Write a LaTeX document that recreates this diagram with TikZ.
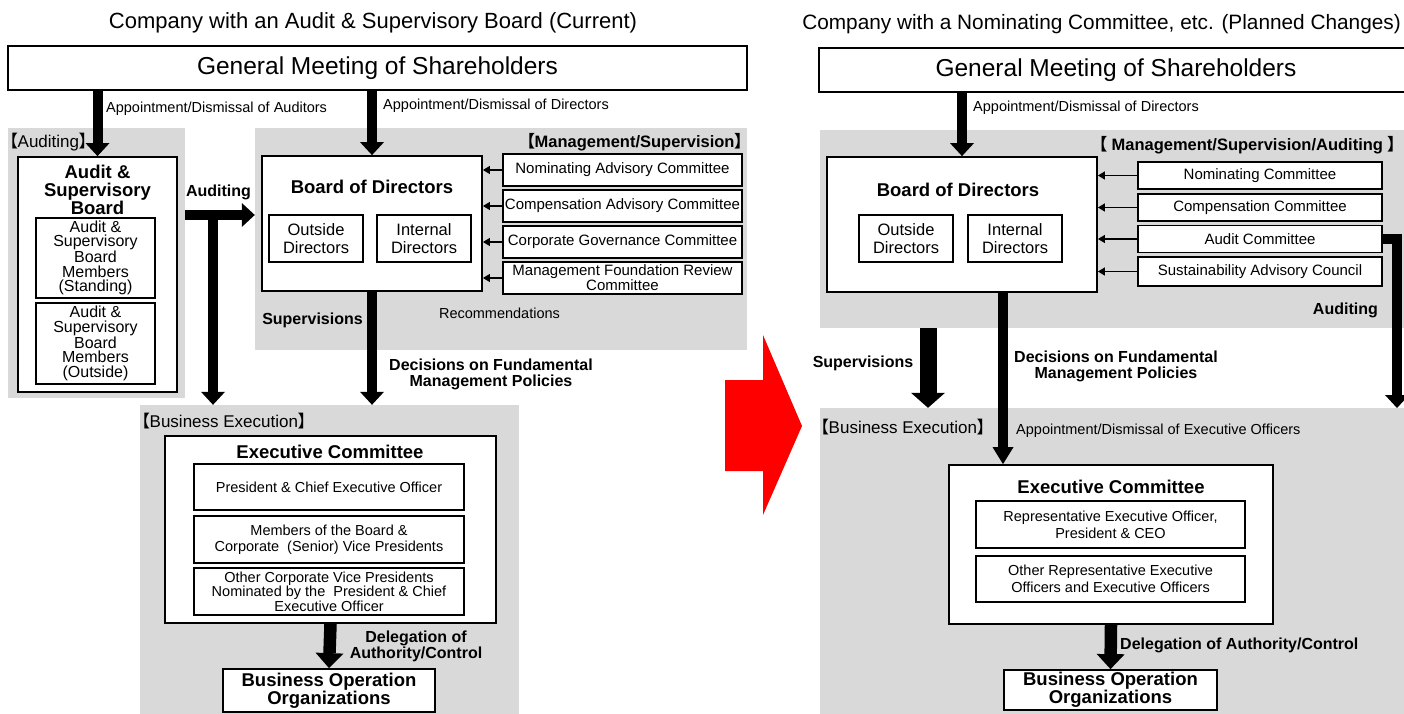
\documentclass[tikz,border=0pt]{standalone}
\usepackage{fontspec}
\setmainfont{Liberation Sans}
\newfontfamily\cjkfont[RawFeature=+palt]{Noto Sans CJK JP}
\usetikzlibrary{arrows.meta, positioning}
\definecolor{panelgray}{HTML}{D9D9D9}
\definecolor{shiftred}{HTML}{FF0000}
\newcommand{\lbrk}{{\cjkfont 【}}
\newcommand{\rbrk}{{\cjkfont 】}}

\begin{document}
\begin{tikzpicture}[
        x=1pt, y=-1pt,
        panel/.style={fill=panelgray, inner sep=0pt},
        bigbox/.style={draw, line width=1.8pt, fill=white, inner sep=0pt, align=center},
        smallbox/.style={draw, line width=1.2pt, fill=white, inner sep=0pt, align=center, font=\fontsize{15}{15}\selectfont},
        heading/.style={inner sep=0pt, font=\fontsize{22}{24}\selectfont},
        gmsfont/.style={font=\fontsize{24.5}{26}\selectfont},
        regiontag/.style={inner sep=0pt, font=\fontsize{17}{17}\selectfont},
        boldtag/.style={inner sep=0pt, font=\fontsize{16.5}{16}\selectfont\bfseries},
        sidenote/.style={inner sep=0pt, font=\fontsize{14.5}{15}\selectfont},
        flowlabel/.style={inner sep=0pt, align=center, font=\fontsize{16}{16}\selectfont\bfseries},
        boxtitle/.style={inner sep=0pt, align=center, font=\fontsize{18.5}{18}\selectfont\bfseries},
        bigarrow/.style={line width=10pt, -{Triangle[width=24pt,length=13pt,line width=0pt]}},
        slimarrow/.style={line width=10pt, -{Triangle[width=21pt,length=17pt,line width=0pt]}},
        fatarrow/.style={line width=17pt, -{Triangle[width=34pt,length=15pt,line width=0pt]}},
        delegarrow/.style={line width=12.5pt, -{Triangle[width=28pt,length=15pt,line width=0pt]}},
        recarrow/.style={line width=1.3pt, -{Triangle[width=8pt,length=7pt]}}
    ]
    \useasboundingbox (0,0) rectangle (1404,713);
    \clip (0,0) rectangle (1404,713);

    % current structure
    \node[heading] (title1) at (373,23) {Company with an Audit \& Supervisory Board (Current)};
    \node[bigbox, gmsfont, minimum width=739pt, minimum height=44pt] (gms1) at (377.5,68) {General Meeting of Shareholders};
    \node[panel, minimum width=177pt, minimum height=270pt] (audpanel) at (96.5,263) {};
    \node[panel, minimum width=492pt, minimum height=222pt] (mgmtpanel1) at (501,239) {};
    \node[panel, minimum width=379pt, minimum height=312pt] (execpanel1) at (329.5,561) {};
    \node[regiontag, anchor=west] (audtag) at (9,142) {\lbrk Auditing\rbrk};
    \node[boldtag, anchor=east] (mgmttag1) at (743,142) {\lbrk Management/Supervision\rbrk};
    \node[regiontag, anchor=west] (bustag1) at (141,421) {\lbrk Business Execution\rbrk};
    \node[sidenote, anchor=west] (appaud) at (106,109) {Appointment/Dismissal of Auditors};
    \node[sidenote, anchor=west] (appdir1) at (383,106) {Appointment/Dismissal of Directors};

    \node[bigbox, minimum width=159pt, minimum height=235pt] (asb) at (97.5,274.5) {};
    \node[boxtitle] (asbtitle) at (97.5,190) {Audit \&\\Supervisory\\Board};
    \node[smallbox, minimum width=119pt, minimum height=80pt, font=\fontsize{16}{14.5}\selectfont] (asbstand) at (95.5,258) {Audit \&\\Supervisory\\Board\\Members\\(Standing)};
    \node[smallbox, minimum width=119pt, minimum height=81pt, font=\fontsize{16}{14.5}\selectfont] (asbout) at (95.5,343.5) {Audit \&\\Supervisory\\Board\\Members\\(Outside)};

    \node[bigbox, minimum width=220pt, minimum height=135pt] (bod1) at (372,223.5) {};
    \node[boxtitle] (bod1title) at (372,187) {Board of Directors};
    \node[smallbox, minimum width=94pt, minimum height=47pt, font=\fontsize{16.5}{18}\selectfont] (outdir1) at (316,238.5) {Outside\\Directors};
    \node[smallbox, minimum width=94pt, minimum height=47pt, font=\fontsize{16.5}{18}\selectfont] (intdir1) at (424,238.5) {Internal\\Directors};

    \node[smallbox, minimum width=239pt, minimum height=32pt] (nomadv) at (622.5,170) {Nominating Advisory Committee};
    \node[smallbox, minimum width=239pt, minimum height=32pt] (compadv) at (622.5,206) {Compensation Advisory Committee};
    \node[smallbox, minimum width=239pt, minimum height=32pt] (cgcom) at (622.5,242) {Corporate Governance Committee};
    \node[smallbox, minimum width=239pt, minimum height=32pt, font=\fontsize{15}{12}\selectfont] (mfrcom) at (622.5,278) {Management Foundation Review\\Committee};
    \draw[recarrow] (nomadv.west) -- (nomadv.west -| bod1.east);
    \draw[recarrow] (compadv.west) -- (compadv.west -| bod1.east);
    \draw[recarrow] (cgcom.west) -- (cgcom.west -| bod1.east);
    \draw[recarrow] (mfrcom.west) -- (mfrcom.west -| bod1.east);
    \node[sidenote] (recnote) at (499.5,313) {Recommendations};

    \node[flowlabel] (audlabel1) at (218.5,192) {Auditing};
    \node[flowlabel] (suplabel1) at (312.5,320) {Supervisions};
    \node[flowlabel] (declabel1) at (491,374) {Decisions on Fundamental\\Management Policies};

    \node[bigbox, minimum width=331pt, minimum height=187pt] (exec1) at (330.5,529.5) {};
    \node[boxtitle] (exec1title) at (330,452) {Executive Committee};
    \node[smallbox, minimum width=270pt, minimum height=46pt, font=\fontsize{14.5}{16.5}\selectfont] (pceo) at (329,487) {President \& Chief Executive Officer};
    \node[smallbox, minimum width=270pt, minimum height=47pt, font=\fontsize{14.5}{16.5}\selectfont] (mbvp) at (329,539.5) {Members of the Board \&\\Corporate\ \ (Senior) Vice Presidents};
    \node[smallbox, minimum width=270pt, minimum height=47pt, font=\fontsize{14.5}{12.5}\selectfont] (ocvp) at (329,591.5) {Other Corporate Vice Presidents\\Nominated by the\ \ President \& Chief\\Executive Officer};
    \node[bigbox, minimum width=212pt, minimum height=43pt, font=\fontsize{18.5}{17}\selectfont\bfseries] (bizops1) at (329,690.5) {Business Operation\\Organizations};
    \node[flowlabel] (dellabel1) at (416,646) {Delegation of\\Authority/Control};

    \coordinate (audjoin) at (213,215);
    \draw[bigarrow] (gms1.south -| asb.north) -- (asb.north);
    \draw[bigarrow] (gms1.south -| bod1.north) -- (bod1.north);
    \draw[bigarrow] (audpanel.east |- audjoin) -- (mgmtpanel1.west |- audjoin);
    \draw[bigarrow] (audjoin) -- (audjoin |- execpanel1.north);
    \draw[bigarrow] (bod1.south) -- (bod1.south |- execpanel1.north);
    \draw[delegarrow] (exec1.south) -- (bizops1.north);

    \fill[shiftred] (725,380) -- (763,380) -- (763,335) -- (802,426) -- (763,515) -- (763,471) -- (725,471) -- cycle;

    % planned structure
    \node[heading, anchor=east, font=\fontsize{20.8}{24}\selectfont] (title2) at (1401,24) {Company with a Nominating Committee, etc. (Planned Changes)};
    \node[bigbox, gmsfont, minimum width=594pt, minimum height=44pt] (gms2) at (1116,70) {General Meeting of Shareholders};
    \node[panel, minimum width=590pt, minimum height=198pt] (mgmtpanel2) at (1115,229) {};
    \node[panel, minimum width=590pt, minimum height=310pt] (execpanel2) at (1115,563) {};
    \node[boldtag, anchor=east] (mgmttag2) at (1396,145) {\lbrk\ Management/Supervision/Auditing\ \rbrk};
    \node[regiontag, anchor=west] (bustag2) at (820,427) {\lbrk Business Execution\rbrk};
    \node[sidenote, anchor=west] (appdir2) at (973,108) {Appointment/Dismissal of Directors};
    \node[sidenote, anchor=west] (appexec) at (1016,431) {Appointment/Dismissal of Executive Officers};

    \node[bigbox, minimum width=270pt, minimum height=135pt] (bod2) at (962,224.5) {};
    \node[boxtitle] (bod2title) at (958,190) {Board of Directors};
    \node[smallbox, minimum width=94pt, minimum height=47pt, font=\fontsize{16.5}{18}\selectfont] (outdir2) at (906,238.5) {Outside\\Directors};
    \node[smallbox, minimum width=94pt, minimum height=47pt, font=\fontsize{16.5}{18}\selectfont] (intdir2) at (1015,238.5) {Internal\\Directors};

    \node[smallbox, minimum width=244pt, minimum height=27pt] (nomcom) at (1260,175.5) {Nominating Committee};
    \node[smallbox, minimum width=244pt, minimum height=27pt] (compcom) at (1260,207.5) {Compensation Committee};
    \node[smallbox, minimum width=244pt, minimum height=27pt] (auditcom) at (1260,239) {Audit Committee};
    \node[smallbox, minimum width=244pt, minimum height=29pt] (sustcouncil) at (1260,271.5) {Sustainability Advisory Council};
    \draw[recarrow] (nomcom.west) -- (nomcom.west -| bod2.east);
    \draw[recarrow] (compcom.west) -- (compcom.west -| bod2.east);
    \draw[recarrow] (auditcom.west) -- (auditcom.west -| bod2.east);
    \draw[recarrow] (sustcouncil.west) -- (sustcouncil.west -| bod2.east);

    \node[flowlabel, anchor=east] (audlabel2) at (1378,310) {Auditing};
    \node[flowlabel] (suplabel2) at (863,363) {Supervisions};
    \node[flowlabel] (declabel2) at (1116,366) {Decisions on Fundamental\\Management Policies};

    \node[bigbox, minimum width=324pt, minimum height=159pt] (exec2) at (1111,544.5) {};
    \node[boxtitle] (exec2title) at (1111,487) {Executive Committee};
    \node[smallbox, minimum width=269pt, minimum height=47pt, font=\fontsize{14.5}{17}\selectfont] (repceo) at (1110.5,524.5) {Representative Executive Officer,\\President \& CEO};
    \node[smallbox, minimum width=269pt, minimum height=46pt, font=\fontsize{14.5}{17}\selectfont] (otherexec) at (1110.5,579) {Other Representative Executive\\Officers and Executive Officers};
    \node[bigbox, minimum width=213pt, minimum height=40pt, font=\fontsize{18.5}{17}\selectfont\bfseries] (bizops2) at (1110.5,690) {Business Operation\\Organizations};
    \node[flowlabel, anchor=west] (dellabel2) at (1120,645) {Delegation of Authority/Control};

    \coordinate (supx) at (928,0);
    \coordinate (decx) at (1003,0);
    \coordinate (audtip) at (1397,408);
    \draw[bigarrow] (gms2.south -| bod2.north) -- (bod2.north);
    \draw[fatarrow] (mgmtpanel2.south -| supx) -- (execpanel2.north -| supx);
    \draw[slimarrow] (bod2.south -| decx) -- (exec2.north -| decx);
    \draw[bigarrow] (auditcom.east) -| (audtip);
    \draw[delegarrow] (exec2.south) -- (bizops2.north);
\end{tikzpicture}
\end{document}
